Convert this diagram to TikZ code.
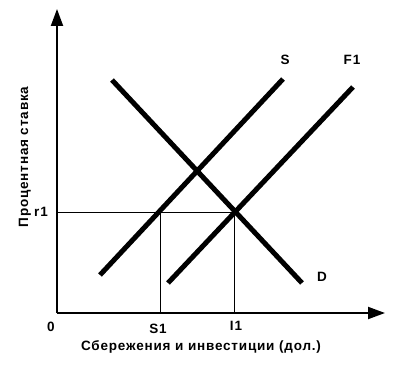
\documentclass[tikz,border=0pt]{standalone}
\usepackage{fontspec}
\setmainfont{Liberation Sans}[LetterSpace=6]
\usepackage{tikz}
\usetikzlibrary{arrows.meta, calc}
\tikzstyle{axis} = [line width=2, -{Triangle[length=17, width=12]}]
\tikzstyle{curve} = [line width=5]
\tikzstyle{guide} = [line width=0.8]
\tikzstyle{lbl} = [inner sep=0, font=\fontsize{13.5}{15}\selectfont\bfseries]

\begin{document}
\begin{tikzpicture}[x=1pt, y=-1pt]
\useasboundingbox (0,0) rectangle (407,366);

%%% axes
\coordinate (o) at (57,313);
\coordinate (ytop) at (57,9);
\coordinate (xend) at (385,313);
\draw[axis] (o) -- (ytop);
\draw[axis] (o) -- (xend);

%%% lines
\coordinate (s0) at (100,275);
\coordinate (s1) at (283,79);
\coordinate (f0) at (168,283);
\coordinate (f1) at (353,87);
\coordinate (d0) at (112,80);
\coordinate (d1) at (302,283);
\draw[curve] (s0) -- (s1);
\draw[curve] (f0) -- (f1);
\draw[curve] (d0) -- (d1);

%%% r1, S1, I1
\coordinate (r) at (57,212);
\coordinate (ps) at (160,212);
\coordinate (pi) at (234,212);
\coordinate (xs) at (160,313);
\coordinate (xi) at (234,313);
\draw[guide] (r) -- (pi);
\draw[guide] (ps) -- (xs);
\draw[guide] (pi) -- (xi);

\node[lbl] (lS) at (285,60) {S};
\node[lbl] (lF) at (352,60) {F1};
\node[lbl] (lD) at (322,277) {D};
\node[lbl] (lr) at (41,212) {r1};
\node[lbl] (l0) at (51,327) {0};
\node[lbl] (lS1) at (158,329) {S1};
\node[lbl] (lI1) at (236,326) {I1};
\node[lbl] (xlab) at (201,347) {Сбережения и инвестиции (дол.)};
\node[lbl, rotate=90] (ylab) at (25,157) {Процентная ставка};

\end{tikzpicture}
\end{document}
